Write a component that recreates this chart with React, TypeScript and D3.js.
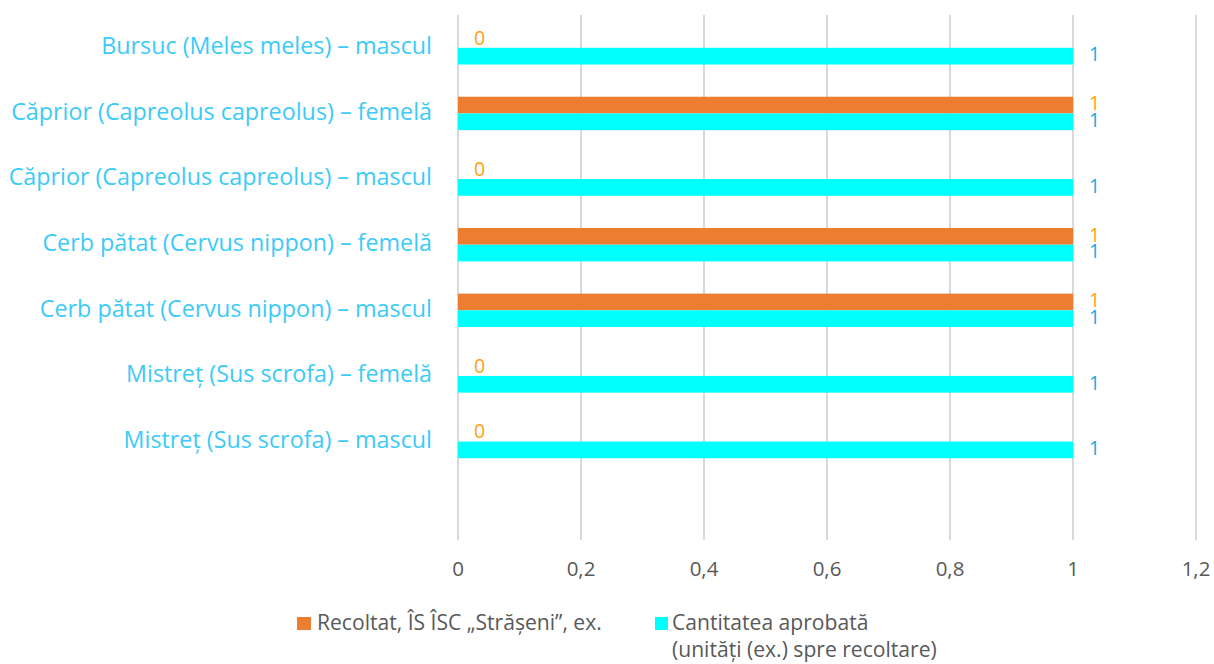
import React from "react";
import * as d3 from "d3";

const categories = [
  "Bursuc (Meles meles) – mascul",
  "Căprior (Capreolus capreolus) – femelă",
  "Căprior (Capreolus capreolus) – mascul",
  "Cerb pătat (Cervus nippon) – femelă",
  "Cerb pătat (Cervus nippon) – mascul",
  "Mistreț (Sus scrofa) – femelă",
  "Mistreț (Sus scrofa) – mascul",
  "",
];
const recoltat: (number | null)[] = [0, 1, 0, 1, 1, 0, 0, null];
const aprobat: (number | null)[] = [1, 1, 1, 1, 1, 1, 1, null];
const xTicks = [0, 0.2, 0.4, 0.6, 0.8, 1, 1.2];
const seriesNames = ["Recoltat, ÎS ÎSC „Strășeni”, ex.", "Cantitatea aprobată"];
const seriesNames2 = ["", "(unități (ex.) spre recoltare)"];

const W = 1214;
const H = 664;
const FONT = "'Open Sans', sans-serif";

export default function App() {
  const x = d3.scaleLinear().domain([0, 1.2]).range([458, 1196]);
  const y = d3.scaleBand<string>().domain(categories.map((c, i) => String(i))).range([15, 540]);
  const bandH = y.bandwidth();
  const barH = 16.7;
  const fmt = (v: number) => String(v).replace(".", ",");
  const series = [
    { vals: recoltat, fill: "#ED7D31", label: "#FF9F10", off: -barH },
    { vals: aprobat, fill: "#00FFFF", label: "#1AA7E6", off: 0 },
  ];
  return (
    <svg width={W} height={H} style={{ position: "absolute", left: 0, top: 0 }}>
      <rect width={W} height={H} fill="#fff" />
      {xTicks.map((t) => (
        <line key={t} x1={x(t)} x2={x(t)} y1={15} y2={540} stroke="#D9D9D9" strokeWidth={2} />
      ))}
      {xTicks.map((t) => (
        <text key={"t" + t} x={x(t)} y={571} textAnchor="middle" dominantBaseline="middle" fill="#595959" fontSize={20.5} fontFamily={FONT}>
          {fmt(t)}
        </text>
      ))}
      {categories.map((c, i) => {
        const cy = (y(String(i)) as number) + bandH / 2;
        return (
          <g key={i}>
            <text x={432} y={cy} textAnchor="end" dominantBaseline="middle" fill="#3CCBF7" fontSize={23.3} fontFamily={FONT}>
              {c}
            </text>
            {series.map((s, si) => {
              const v = s.vals[i];
              if (v === null) return null;
              const top = cy + s.off;
              return (
                <g key={si}>
                  {v > 0 && <rect x={x(0)} y={top} width={x(v) - x(0)} height={barH} fill={s.fill} />}
                  <text x={x(v) + 16} y={top + barH / 2} dominantBaseline="middle" fill={s.label} fontSize={19.5} fontFamily={FONT}>
                    {fmt(v)}
                  </text>
                </g>
              );
            })}
          </g>
        );
      })}
      <rect x={297} y={617} width={14} height={13} fill="#ED7D31" />
      <text x={317} y={624} dominantBaseline="middle" fill="#595959" fontSize={21.1} fontFamily={FONT}>{seriesNames[0]}</text>
      <rect x={655} y={617} width={13} height={13} fill="#00FFFF" />
      <text x={672} y={624} dominantBaseline="middle" fill="#595959" fontSize={21.1} fontFamily={FONT}>{seriesNames[1]}</text>
      <text x={672} y={651} dominantBaseline="middle" fill="#595959" fontSize={21.1} fontFamily={FONT}>{seriesNames2[1]}</text>
    </svg>
  );
}
